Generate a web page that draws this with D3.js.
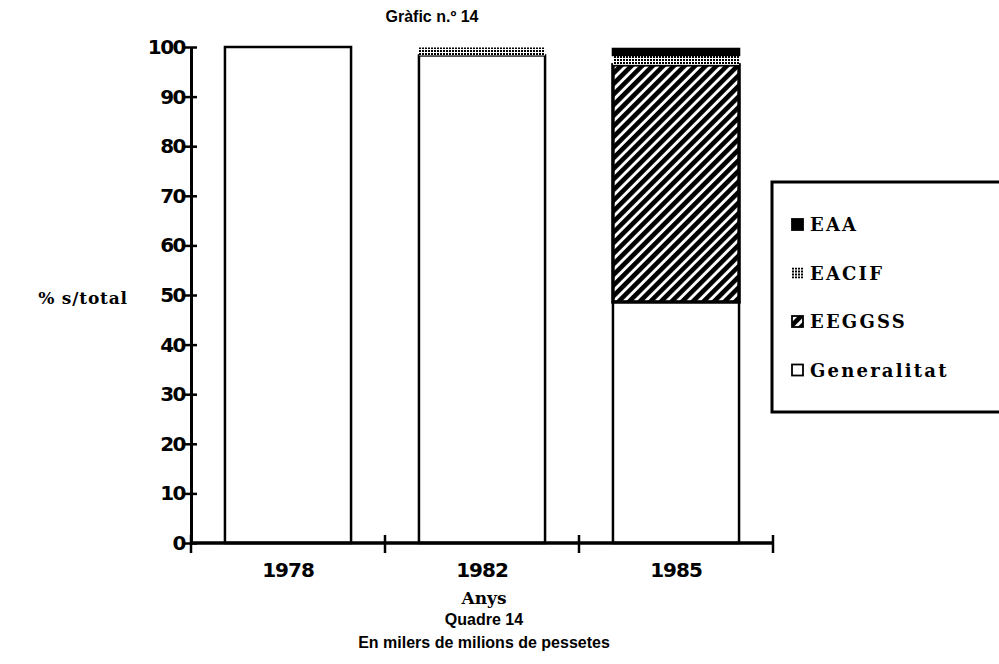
<!DOCTYPE html>
<html>
<head>
<meta charset="utf-8">
<script src="https://cdn.jsdelivr.net/npm/d3@7"></script>
<style>
  body { margin: 0; background: #fff; }
  text { fill: #000; }
</style>
</head>
<body>
<div id="chart"></div>
<script>
var years = ["1978", "1982", "1985"];
var seriesNames = ["Generalitat", "EEGGSS", "EACIF", "EAA"];
var generalitat = [100, 98.3, 48.6];
var eeggss = [0, 0, 47.8];
var eacif = [0, 1.6, 2.0];
var eaa = [0, 0, 1.2];
var yTicks = [0, 10, 20, 30, 40, 50, 60, 70, 80, 90, 100];

var svgWidth = 999, svgHeight = 664;
var margin = { top: 47, left: 191 };
var width = 582, height = 496;

var svg = d3.select("#chart").append("svg")
  .attr("width", svgWidth)
  .attr("height", svgHeight);

// patterns
var defs = svg.append("defs");
var hatch = defs.append("pattern")
  .attr("id", "hatch")
  .attr("patternUnits", "userSpaceOnUse")
  .attr("width", 7.5).attr("height", 7.5)
  .attr("patternTransform", "rotate(45)");
hatch.append("rect").attr("width", 7.5).attr("height", 7.5).attr("fill", "#fff");
hatch.append("rect").attr("x", 0).attr("width", 4.6).attr("height", 7.5).attr("fill", "#000");

var dots = defs.append("pattern")
  .attr("id", "dots")
  .attr("patternUnits", "userSpaceOnUse")
  .attr("width", 3).attr("height", 3);
dots.append("rect").attr("width", 3).attr("height", 3).attr("fill", "#fff");
dots.append("rect").attr("width", 2).attr("height", 2).attr("fill", "#000");

var fills = {
  "Generalitat": "#fff",
  "EEGGSS": "url(#hatch)",
  "EACIF": "url(#dots)",
  "EAA": "#000"
};

var table = years.map(function (y, i) {
  return { year: y, Generalitat: generalitat[i], EEGGSS: eeggss[i], EACIF: eacif[i], EAA: eaa[i] };
});
var stacked = d3.stack().keys(seriesNames)(table);

var xScale = d3.scaleBand().domain(years).range([0, width]).paddingInner(0.35).paddingOuter(0.175);
var xEdges = d3.scaleBand().domain(years).range([0, width]);
var yScale = d3.scaleLinear().domain([0, 100]).range([height, 0]);

var chartGroup = svg.append("g")
  .attr("transform", `translate(${margin.left}, ${margin.top})`);

// bars
stacked.forEach(function (layer) {
  chartGroup.append("g").selectAll("rect")
    .data(layer.filter(function (d) { return d[1] - d[0] > 0; }))
    .enter()
    .append("rect")
    .attr("x", function (d) { return xScale(d.data.year); })
    .attr("width", xScale.bandwidth())
    .attr("y", function (d) { return yScale(d[1]); })
    .attr("height", function (d) { return yScale(d[0]) - yScale(d[1]); })
    .attr("fill", fills[layer.key])
    .attr("stroke", "#000")
    .attr("stroke-width", layer.key == "EACIF" ? 0 : (layer.key == "EEGGSS" ? 3.5 : 2.5));
});

// y axis
var leftAxis = d3.axisLeft(yScale).tickValues(yTicks).tickSizeInner(8).tickSizeOuter(0).tickPadding(1);
var yAxisG = chartGroup.append("g").call(leftAxis);
yAxisG.select(".domain").attr("stroke-width", 3);
yAxisG.selectAll(".tick line").attr("stroke-width", 2.5).attr("x2", -7).attr("x1", 6);
yAxisG.selectAll(".tick text")
  .attr("font-family", "DejaVu Sans")
  .attr("font-weight", "bold")
  .attr("font-size", 20)
  .attr("letter-spacing", -1.5)
  .attr("x", -6);

// x axis
var xAxisG = chartGroup.append("g").attr("transform", `translate(0, ${height})`);
xAxisG.append("line").attr("x1", 0).attr("x2", width).attr("stroke", "#000").attr("stroke-width", 3.5);
xAxisG.selectAll("line.sep")
  .data([0].concat(years.map(function (y) { return xEdges(y) + xEdges.bandwidth(); })))
  .enter().append("line")
  .attr("class", "sep")
  .attr("x1", function (d) { return d; }).attr("x2", function (d) { return d; })
  .attr("y1", -8).attr("y2", 10)
  .attr("stroke", "#000").attr("stroke-width", 2.5);
xAxisG.selectAll("text")
  .data(years).enter().append("text")
  .attr("x", function (d) { return xEdges(d) + xEdges.bandwidth() / 2; })
  .attr("y", 34)
  .attr("text-anchor", "middle")
  .attr("font-family", "DejaVu Sans")
  .attr("font-weight", "bold")
  .attr("font-size", 20)
  .attr("letter-spacing", -1)
  .text(function (d) { return d; });

// titles
svg.append("text").attr("x", 432).attr("y", 22).attr("text-anchor", "middle")
  .attr("font-family", "Liberation Sans").attr("font-weight", "bold").attr("font-size", 16)
  .text("Gràfic n.º 14");
svg.append("text").attr("x", 83).attr("y", 304).attr("text-anchor", "middle")
  .attr("font-family", "DejaVu Serif").attr("font-weight", "bold").attr("font-size", 17)
  .attr("letter-spacing", 0.8)
  .text("% s/total");
svg.append("text").attr("x", 484).attr("y", 604).attr("text-anchor", "middle")
  .attr("font-family", "DejaVu Serif").attr("font-weight", "bold").attr("font-size", 17)
  .text("Anys");
svg.append("text").attr("x", 484).attr("y", 625).attr("text-anchor", "middle")
  .attr("font-family", "Liberation Sans").attr("font-weight", "bold").attr("font-size", 16)
  .text("Quadre 14");
svg.append("text").attr("x", 484).attr("y", 648).attr("text-anchor", "middle")
  .attr("font-family", "Liberation Sans").attr("font-weight", "bold").attr("font-size", 16)
  .text("En milers de milions de pessetes");

// legend
var legend = svg.append("g").attr("transform", "translate(772, 182)");
legend.append("rect").attr("x", 0).attr("y", 0).attr("width", 240).attr("height", 230)
  .attr("fill", "#fff").attr("stroke", "#000").attr("stroke-width", 3);
var legendOrder = seriesNames.slice().reverse();
var items = legend.selectAll("g.item").data(legendOrder).enter().append("g")
  .attr("transform", function (d, i) { return `translate(20, ${43 + i * 48.5})`; });
items.append("rect")
  .attr("x", 0).attr("y", -6).attr("width", 11).attr("height", 11)
  .attr("fill", function (d) { return fills[d]; })
  .attr("stroke", function (d) { return d == "EACIF" ? "none" : "#000"; })
  .attr("stroke-width", 1.8);
items.append("text")
  .attr("x", 18).attr("y", 6)
  .attr("font-family", "DejaVu Serif").attr("font-weight", "bold").attr("font-size", 18)
  .attr("letter-spacing", 2.2)
  .text(function (d) { return d; });
</script>
</body>
</html>
